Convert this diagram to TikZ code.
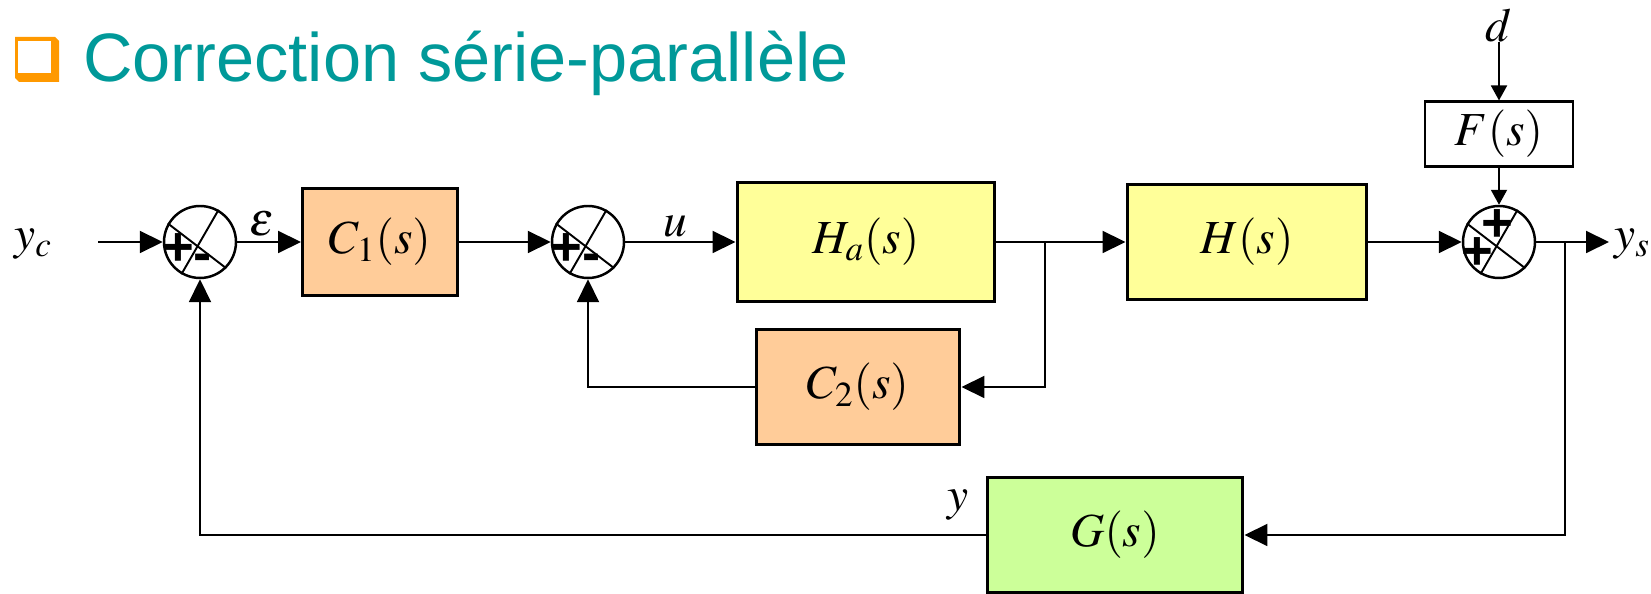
\documentclass[tikz,border=0pt]{standalone}
\usepackage{mathptmx}
\usepackage{fontspec}
\setmainfont{Liberation Serif}
\setsansfont{Liberation Sans}
\usetikzlibrary{arrows.meta}

\definecolor{titlecol}{RGB}{0,153,153}
\definecolor{iconcol}{RGB}{255,153,0}
\definecolor{corrfill}{RGB}{255,204,153}
\definecolor{procfill}{RGB}{255,255,153}
\definecolor{captfill}{RGB}{204,255,153}

\begin{document}
\begin{tikzpicture}[x=0.02cm, y=-0.02cm,
    block/.style={draw, line width=1.7pt, inner sep=0pt, font=\fontsize{27}{27}\selectfont},
    sumj/.style={draw, circle, line width=1.4pt, minimum size=1.44cm, inner sep=0pt},
    sgn/.style={inner sep=0pt, font=\fontsize{31}{31}\selectfont\sffamily\bfseries},
    lbl/.style={inner sep=0pt, font=\fontsize{27}{27}\selectfont},
    sig/.style={line width=1.1pt, -{Triangle[length=0.46cm, width=0.44cm]}},
    sigsmall/.style={line width=1.1pt, -{Triangle[length=0.3cm, width=0.32cm]}}]
    \useasboundingbox (0,0) rectangle (1651,594);

    % titre
    \fill[iconcol] (15,37) -- (55,37) -- (59,41) -- (59,82) -- (19,82) -- (15,78) -- cycle;
    \fill[white] (18,41) rectangle (51,73);
    \node[anchor=base west, inner sep=0pt, text=titlecol,
          font=\fontsize{39}{39}\selectfont\sffamily] (title) at (83,82) {Correction série-parallèle};

    % blocs
    \node[block, fill=corrfill, minimum width=3.1cm, minimum height=2.16cm] (C1) at (380,242) {$C_1(s)$};
    \node[block, fill=procfill, minimum width=5.16cm, minimum height=2.4cm] (Ha) at (866,242) {$H_a(s)$};
    \node[block, fill=procfill, minimum width=4.8cm, minimum height=2.3cm] (H) at (1247,242) {$H(s)$};
    \node[block, fill=corrfill, minimum width=4.08cm, minimum height=2.32cm] (C2) at (858,387) {$C_2(s)$};
    \node[block, fill=white, line width=1.2pt, minimum width=2.96cm, minimum height=1.3cm] (F) at (1499,134) {$F(s)$};
    \node[block, fill=captfill, minimum width=5.12cm, minimum height=2.3cm] (G) at (1115,535) {$G(s)$};

    % sommateurs
    \node[sumj] (s1) at (200,242) {};
    \node[sumj] (s2) at (588,242) {};
    \node[sumj] (s3) at (1499,242) {};
    \foreach \s in {s1,s2,s3} {
        \draw[line width=1.1pt] (\s.150) -- (\s.-45);
        \draw[line width=1.1pt] (\s.-120) -- (\s.60);
    }
    \node[sgn] (p1) at (178,250) {+};
    \node[sgn] (m1) at (203,263) {-};
    \node[sgn] (p2) at (566,250) {+};
    \node[sgn] (m2) at (592,263) {-};
    \node[sgn] (p3) at (1497,226) {+};
    \node[sgn] (q3) at (1477,254) {+};

    % signaux
    \node[lbl] (yc) at (33,244) {$y_c$};
    \node[lbl] (eps) at (262,224) {$\varepsilon$};
    \node[lbl] (u) at (675,226) {$u$};
    \node[lbl] (d) at (1499,25) {$d$};
    \node[lbl, anchor=west] (ys) at (1614,244) {$y_s$};
    \node[lbl] (y) at (958,505) {$y$};

    \coordinate (yin) at (98,242);
    \coordinate (b1) at (1045,242);
    \coordinate (b2) at (1565,242);
    \coordinate (yout) at (1609,242);

    \draw[sig] (yin) -- (s1);
    \draw[sig] (s1) -- (C1);
    \draw[sig] (C1) -- (s2);
    \draw[sig] (s2) -- (Ha);
    \draw[line width=1.1pt] (Ha) -- (b1);
    \draw[sig] (b1) -- (H);
    \draw[sig] (b1) |- (C2);
    \draw[sig] (C2) -| (s2);
    \draw[sig] (H) -- (s3);
    \draw[sigsmall] (d) -- (F);
    \draw[sigsmall] (F) -- (s3);
    \draw[line width=1.1pt] (s3) -- (b2);
    \draw[sig] (b2) -- (yout);
    \draw[sig] (b2) |- (G);
    \draw[sig] (G) -| (s1);
\end{tikzpicture}
\end{document}
